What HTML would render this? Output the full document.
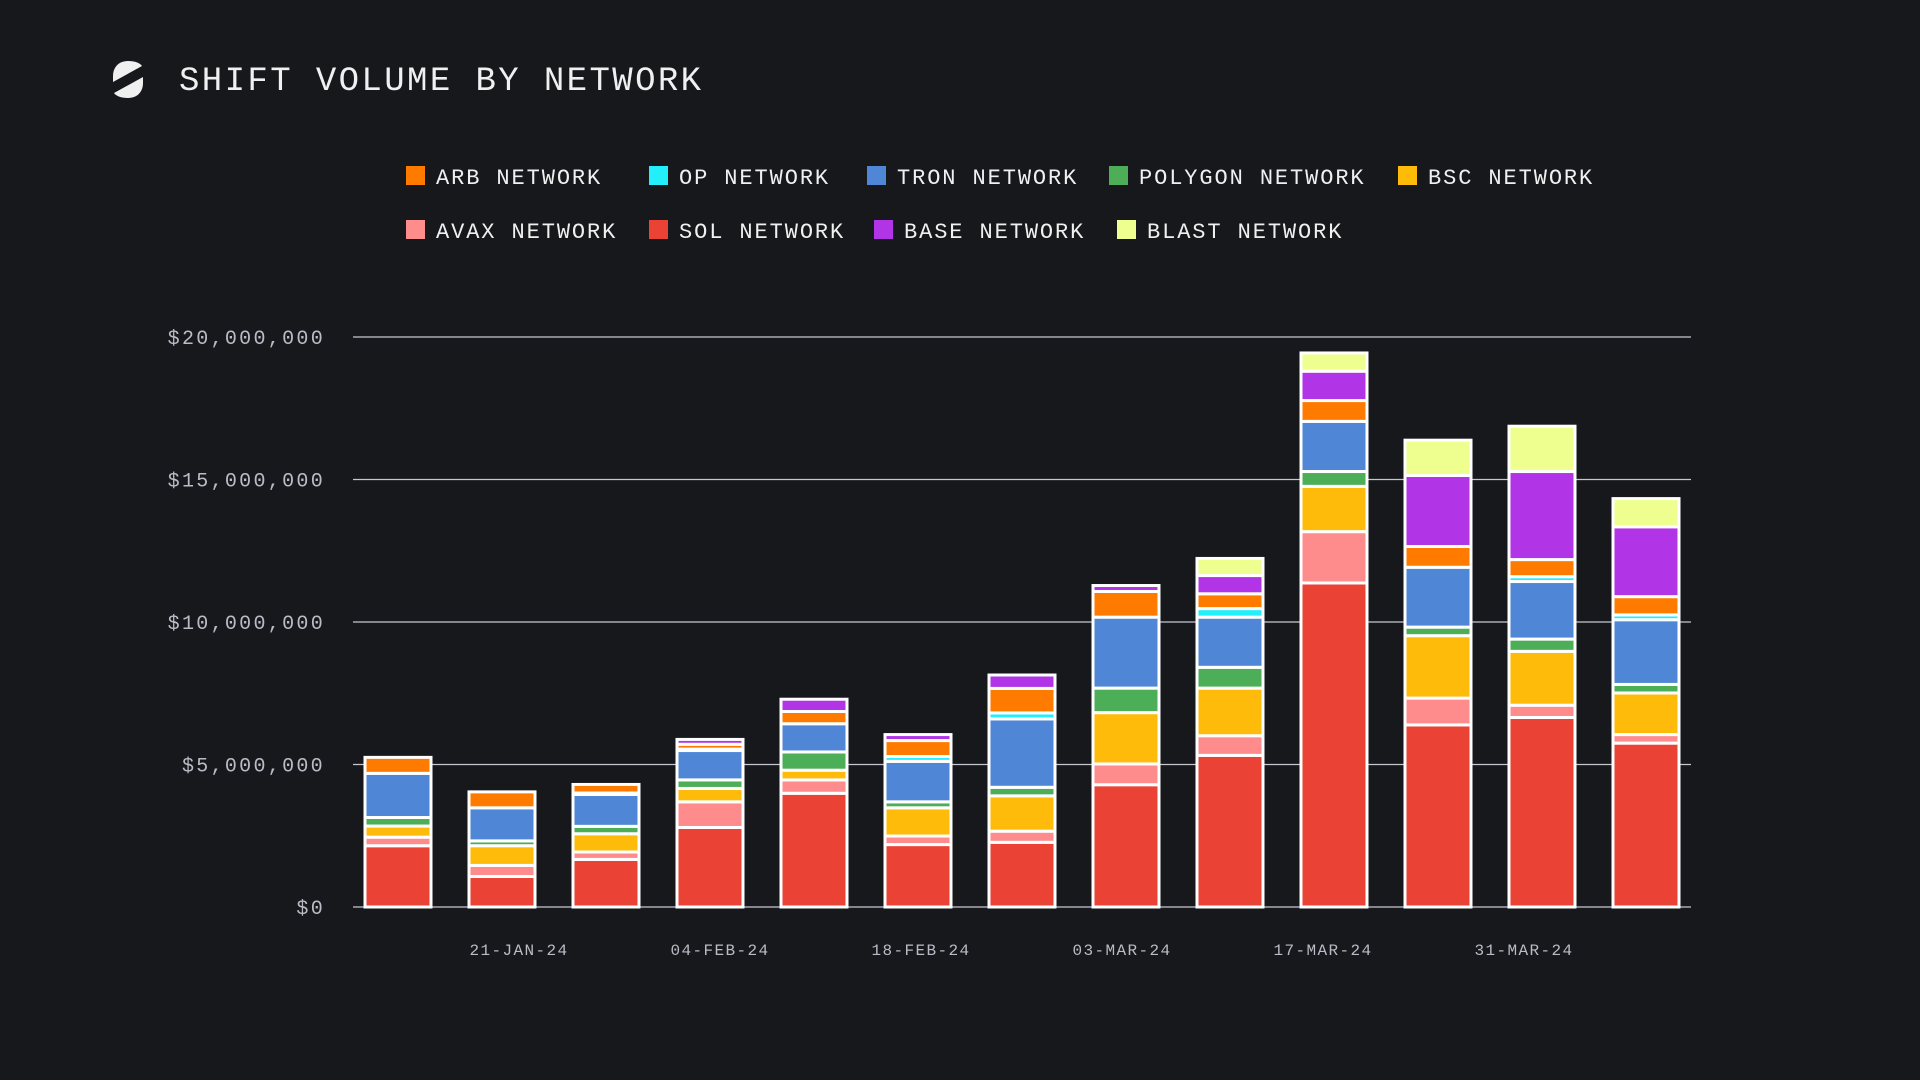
<!DOCTYPE html>
<html><head><meta charset="utf-8"><style>
html,body{margin:0;padding:0;background:#17181c;width:1920px;height:1080px;overflow:hidden}
svg{display:block}
</style></head><body>
<svg id="chart" width="1920" height="1080" xmlns="http://www.w3.org/2000/svg">
<rect width="1920" height="1080" fill="#17181c"/>
<g>
<path d="M128 61 C118 61 113 68 113 76 L113 82 L142 66 C140 63 135 61 128 61 Z" fill="#f0f0f0"/>
<path d="M128 98 C138 98 143 91 143 83 L143 77 L114 93 C116 96 121 98 128 98 Z" fill="#f0f0f0"/>
</g>
<text x="179" y="90" fill="#f0f0f0" font-family="Liberation Mono, monospace" font-size="34" letter-spacing="2.4">SHIFT VOLUME BY NETWORK</text>
<g id="legend"></g>
<g id="grid"></g>
<g id="bars"></g>
<g id="xaxis"></g>
</svg>
<script>
const categories = ["W1","W2","W3","W4","W5","W6","W7","W8","W9","W10","W11","W12","W13"];
const sol     = [2.15,1.07,1.67,2.79,3.99,2.19,2.27,4.29,5.32,11.37,6.39,6.65,5.75];
const avax    = [0.30,0.39,0.26,0.90,0.47,0.30,0.39,0.73,0.69,1.80,0.94,0.43,0.30];
const bsc     = [0.39,0.69,0.64,0.47,0.34,0.99,1.24,1.80,1.67,1.59,2.19,1.89,1.46];
const polygon = [0.30,0.17,0.26,0.30,0.64,0.21,0.30,0.86,0.73,0.52,0.30,0.43,0.30];
const tron    = [1.55,1.16,1.12,1.03,0.99,1.42,2.40,2.49,1.76,1.76,2.10,2.02,2.27];
const op      = [0.00,0.00,0.05,0.05,0.00,0.17,0.21,0.00,0.30,0.00,0.00,0.17,0.17];
const arb     = [0.56,0.56,0.30,0.17,0.43,0.56,0.86,0.90,0.52,0.73,0.73,0.60,0.64];
const base    = [0.00,0.00,0.00,0.17,0.43,0.21,0.47,0.21,0.64,1.03,2.49,3.09,2.45];
const blast   = [0.00,0.00,0.00,0.00,0.00,0.00,0.00,0.00,0.60,0.64,1.24,1.59,0.99];
const seriesNames = ["SOL NETWORK","AVAX NETWORK","BSC NETWORK","POLYGON NETWORK","TRON NETWORK","OP NETWORK","ARB NETWORK","BASE NETWORK","BLAST NETWORK"];
const yTicks = [0,5,10,15,20];
const yTickLabels = ["$0","$5,000,000","$10,000,000","$15,000,000","$20,000,000"];
const xTickLabels = ["21-JAN-24","04-FEB-24","18-FEB-24","03-MAR-24","17-MAR-24","31-MAR-24"];

const NS="http://www.w3.org/2000/svg";
const colors=["#ea4335","#ff8c8c","#ffbb0a","#4cae57","#4f87d6","#22eefc","#ff7b00","#b134e6","#efff8f"];
const seriesData=[sol,avax,bsc,polygon,tron,op,arb,base,blast];
const y0=907, yTop=337, plotL=353, plotR=1691;
function yScale(v){return y0-(v/20)*(y0-yTop);}
function xScale(i){return 365+i*104;}
const barW=66;
function xLabel(i){return 519+i*201;}
function mk(tag,attrs,parent){const e=document.createElementNS(NS,tag);for(const k in attrs)e.setAttribute(k,attrs[k]);parent.appendChild(e);return e;}

const grid=document.getElementById('grid');
yTicks.forEach((t,i)=>{
  const l=mk('line',{x1:plotL,x2:plotR,y1:yScale(t),y2:yScale(t),stroke:"#c4c7cf","stroke-width":1.2},grid);
  
  
  const tx=mk('text',{x:325,y:yScale(t)+7,fill:"#b9bcc6","font-family":"Liberation Mono, monospace","font-size":20,"letter-spacing":2.3,"text-anchor":"end"},grid);
  tx.textContent=yTickLabels[i];
  
  
});

const bars=document.getElementById('bars');
categories.forEach((c,i)=>{
  const g=mk('g',{},bars);
  
  
  let cum=0;
  seriesData.forEach((s,k)=>{
    const v=s[i]; if(v<=0)return;
    const yb=yScale(cum), yt=yScale(cum+v); cum+=v;
    const r=mk('rect',{x:xScale(i),y:yt,width:barW,height:Math.max(0.5,yb-yt),fill:colors[k],stroke:"#ffffff","stroke-width":3},g);
    
    
  });
});

const xa=document.getElementById('xaxis');
xTickLabels.forEach((t,i)=>{
  const tx=mk('text',{x:xLabel(i),y:955,fill:"#b9bcc6","font-family":"Liberation Mono, monospace","font-size":16,"letter-spacing":1.4,"text-anchor":"middle"},xa);
  tx.textContent=t;
  
  
});

const legendItems=[["ARB NETWORK",6,406,176],["OP NETWORK",5,649,176],["TRON NETWORK",4,867,176],["POLYGON NETWORK",3,1109,176],["BSC NETWORK",2,1398,176],
["AVAX NETWORK",1,406,230],["SOL NETWORK",0,649,230],["BASE NETWORK",7,874,230],["BLAST NETWORK",8,1117,230]];
const lg=document.getElementById('legend');
legendItems.forEach(it=>{
  const g=mk('g',{},lg);
  
  
  mk('rect',{x:it[2],y:it[3]-10,width:19,height:19,fill:colors[it[1]]},g);
  const tx=mk('text',{x:it[2]+30,y:it[3]+8,fill:"#f0f0f0","font-family":"Liberation Mono, monospace","font-size":22,"letter-spacing":1.9},g);
  tx.textContent=it[0];
});
</script>
</body></html>
